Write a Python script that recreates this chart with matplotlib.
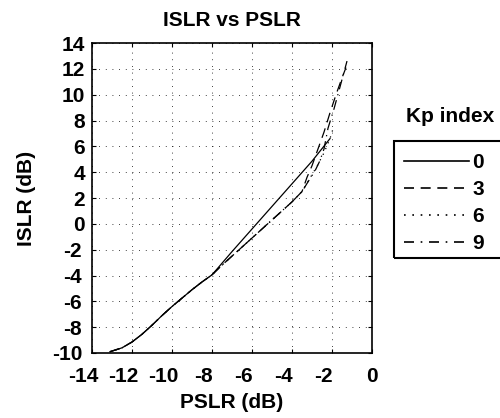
import matplotlib
matplotlib.use("Agg")
import matplotlib.pyplot as plt
import matplotlib.transforms as mtransforms
from matplotlib.lines import Line2D
from matplotlib.patches import Rectangle

plt.rcParams['font.family'] = ['Liberation Sans', 'DejaVu Sans']
plt.rcParams['font.weight'] = 'bold'
plt.rcParams['axes.unicode_minus'] = False

# Data
common_x = [-13.1, -12.5, -12.0, -11.5, -11.0, -10.5, -10.0, -9.5, -9.0, -8.5, -8.0]
common_y = [-9.9, -9.6, -9.15, -8.55, -7.85, -7.1, -6.4, -5.75, -5.1, -4.5, -3.95]

kp0_x = common_x + [-7.0, -6.0, -5.0, -4.0, -3.0, -2.1]
kp0_y = common_y + [-2.15, -0.4, 1.35, 3.1, 4.85, 6.6]

low_x = [-7.5, -7.0, -6.5, -6.0, -5.5, -5.0, -4.5, -4.0, -3.5]
low_y = [-3.2, -2.5, -1.8, -1.1, -0.4, 0.3, 1.0, 1.7, 2.5]

kp3_x = common_x + low_x + [-3.25, -3.0, -2.7, -2.4, -2.1, -1.8, -1.5, -1.3]
kp3_y = common_y + low_y + [3.6, 4.5, 5.8, 7.1, 8.6, 10.0, 11.3, 12.1]

kp6_x = common_x + low_x + [-3.0, -2.7, -2.4, -2.1, -1.9]
kp6_y = common_y + low_y + [3.8, 4.6, 5.5, 6.6, 7.6]

kp9_x = common_x + low_x + [-3.1, -2.85, -2.6, -2.4, -2.2, -1.9, -1.6, -1.25]
kp9_y = common_y + low_y + [3.5, 4.1, 4.9, 5.8, 7.4, 8.9, 10.6, 12.6]

labels = ['0', '3', '6', '9']
xticks = [-14, -12, -10, -8, -6, -4, -2, 0]
yticks = list(range(-10, 15, 2))

FS = 15

fig = plt.figure(figsize=(5.0, 4.18), dpi=100)
ax = fig.add_axes([92/500, 1-353/418, 280/500, 310/418])

lw = 0.9
ax.plot(kp0_x, kp0_y, color='black', lw=lw, linestyle='-')
ax.plot(kp3_x, kp3_y, color='black', lw=lw, linestyle=(0, (8, 5)))
ax.plot(kp6_x, kp6_y, color='black', lw=lw, linestyle=(0, (1, 4)))
ax.plot(kp9_x, kp9_y, color='black', lw=lw, linestyle=(0, (8, 4, 1, 4)))

ax.set_xlim(-14, 0)
ax.set_ylim(-10, 14)
ax.set_xticks(xticks)
ax.set_yticks(yticks)
ax.set_xticklabels([str(v) for v in xticks])
ax.set_yticklabels([str(v) for v in yticks])
ax.tick_params(direction='in', top=True, right=True, length=3, width=0.8,
               labelsize=FS)
ax.tick_params(axis='x', pad=10)
ax.tick_params(axis='y', pad=5)
for lab in ax.get_xticklabels():
    lab.set_fontweight('bold')
    if lab.get_text().startswith('-'):
        lab.set_transform(lab.get_transform() +
                          mtransforms.ScaledTranslation(-9/100, 0, fig.dpi_scale_trans))
for lab in ax.get_yticklabels():
    lab.set_fontweight('bold')
    if lab.get_text().startswith('-'):
        lab.set_transform(lab.get_transform() +
                          mtransforms.ScaledTranslation(-3/100, 0, fig.dpi_scale_trans))
ax.grid(True, linestyle=(0, (1, 7)), color='black', lw=0.6)
for s in ax.spines.values():
    s.set_linewidth(1.2)

ax.set_title('ISLR vs PSLR', fontsize=FS, fontweight='bold', pad=12)
ax.set_xlabel('PSLR (dB)', fontsize=FS, fontweight='bold', labelpad=5)
ax.set_ylabel('ISLR (dB)', fontsize=FS, fontweight='bold', labelpad=11)

handles = [
    Line2D([], [], color='black', lw=1.2, linestyle='-'),
    Line2D([], [], color='black', lw=1.2, linestyle=(0, (6, 4))),
    Line2D([], [], color='black', lw=1.2, linestyle=(0, (1, 4))),
    Line2D([], [], color='black', lw=1.2, linestyle=(0, (6, 4, 1, 4))),
]
leg = fig.legend(handles, labels, loc='upper left',
                 bbox_to_anchor=(394/500, 1-143/418),
                 bbox_transform=fig.transFigure,
                 fontsize=FS, handlelength=3.1, handletextpad=0.15,
                 labelspacing=0.38, borderpad=0.5, borderaxespad=0,
                 frameon=False)
for t in leg.get_texts():
    t.set_fontweight('bold')

# legend frame, running off the right edge of the figure as in the reference
fig.patches.append(Rectangle((394/500, 1-258/418), 0.3, 117/418,
                             transform=fig.transFigure, fill=False,
                             edgecolor='black', lw=1.5, clip_on=False))

fig.text(450/500, 1-117/418, 'Kp index', fontsize=FS, fontweight='bold',
         ha='center', va='center')

fig.savefig('out.png', dpi=100)
